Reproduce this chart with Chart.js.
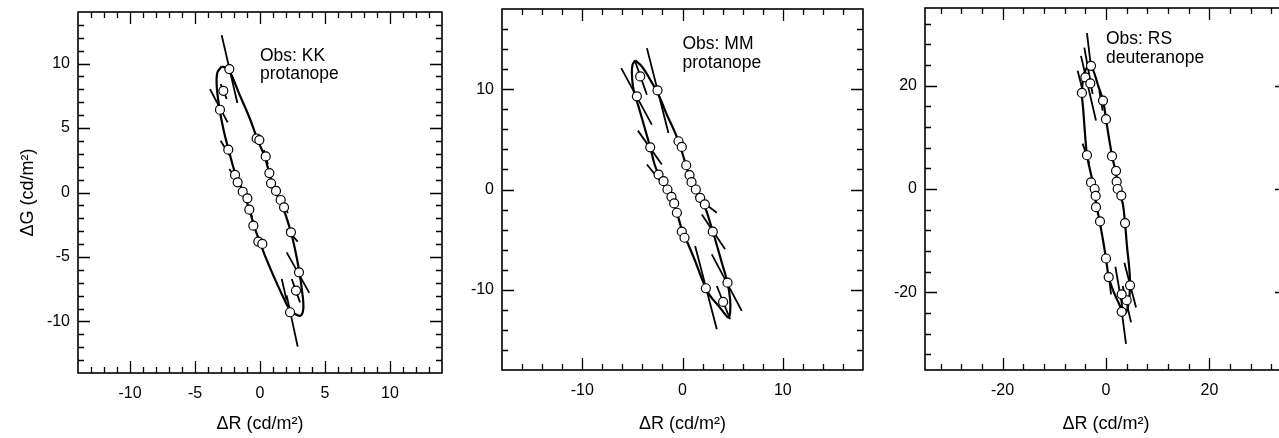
<!DOCTYPE html>
<html><head><meta charset="utf-8">
<script src="https://cdn.jsdelivr.net/npm/chart.js@4.4.1/dist/chart.umd.min.js"></script>
<style>
html,body{margin:0;padding:0;background:#fff;overflow:hidden;width:1279px;height:438px;position:relative;}
.p{position:absolute;top:0;}
canvas{display:block;}
</style></head><body>
<div class="p" style="left:0px;width:460px;height:438px"><canvas id="c1" width="460" height="438"></canvas></div>
<div class="p" style="left:440px;width:440px;height:438px"><canvas id="c2" width="440" height="438"></canvas></div>
<div class="p" style="left:880px;width:430px;height:438px"><canvas id="c3" width="430" height="438"></canvas></div>
<script>
// ---------- Panel 1: Obs KK, protanope ----------
const p1PointsX = [-2.36,-2.82,-3.08,-2.44,-1.92,-1.72,-1.33,-0.97,-0.82,-0.51,-0.13,0.18,-0.26,-0.05,0.44,0.72,0.85,1.23,1.59,1.85,2.38,3.00,2.77,2.31];
const p1PointsY = [9.57,7.89,6.42,3.32,1.36,0.79,0.06,-0.45,-1.33,-2.57,-3.81,-3.99,4.19,4.07,2.80,1.51,0.71,0.12,-0.58,-1.15,-3.09,-6.19,-7.61,-9.29];
const p1CurveX = [-2.95,-2.44,-1.54,-0.77,-0.21,0.38,0.77,1.15,1.67,2.31,2.69,3.03,3.28,3.33,3.13,2.69,2.26,1.67,1.03,0.38,0,-0.38,-0.82,-1.28,-1.85,-2.36,-2.82,-3.15,-3.33,-3.28,-2.95];
const p1CurveY = [9.78,9.57,7.51,5.70,4.15,2.73,1.30,0.14,-0.89,-2.83,-4.38,-6.19,-8.00,-9.03,-9.55,-9.42,-9.03,-7.87,-6.45,-4.90,-3.87,-2.83,-1.33,0.01,1.30,3.11,4.92,6.73,8.28,9.31,9.78];
const p1SegX1 = [-2.95,-3.85,-3.03,-3.03,-2.36,2.05,2.05,1.67,2.05,2.44,1.75,-0.95,0.30];
const p1SegY1 = [12.21,8.02,8.41,4.02,1.82,-2.83,-4.64,-6.70,-7.98,-6.71,-0.90,-1.00,3.30];
const p1SegX2 = [-1.74,-2.49,-2.56,-2.31,-1.74,2.90,3.79,2.05,2.90,3.08,2.15,-0.60,0.60];
const p1SegY2 = [6.94,5.44,7.25,2.85,0.92,-3.81,-7.79,-8.38,-11.95,-8.52,-1.60,-1.90,2.20];
const p1TickLabels = [-10,-5,0,5,10];
const p1Note = ['Obs: KK','protanope'];

// ---------- Panel 2: Obs MM, protanope ----------
const p2PointsX = [-4.55,-4.22,-2.49,-3.22,-2.39,-1.89,-1.50,-1.10,-0.83,-0.56,-0.07,0.20,-0.40,-0.07,0.37,0.70,0.90,1.33,1.76,2.23,3.02,4.49,4.05,2.33];
const p2PointsY = [9.29,11.28,9.88,4.21,1.49,0.83,0,-0.73,-1.39,-2.32,-4.21,-4.81,4.81,4.25,2.42,1.43,0.73,0,-0.83,-1.49,-4.21,-9.29,-11.21,-9.85];
const p2CurveX = [-4.72,-4.05,-3.22,-2.39,-1.56,-0.73,-0.23,0.33,0.93,1.59,2.26,2.76,3.26,3.92,4.49,4.75,4.75,4.58,4.25,3.59,2.76,2.09,1.26,0.43,-0.07,-0.56,-1.23,-2.06,-2.72,-3.22,-3.72,-4.39,-4.88,-5.05,-4.98,-4.72];
const p2CurveY = [12.87,12.27,10.95,9.45,7.46,5.64,4.31,2.49,0.66,-0.66,-1.82,-3.32,-4.98,-7.30,-9.29,-10.95,-12.27,-12.77,-12.44,-11.61,-10.61,-9.29,-7.13,-5.14,-3.98,-2.32,-0.66,0.83,2.32,4.21,5.97,8.29,9.95,11.61,12.44,12.87];
const p2SegX1 = [-6.11,-4.72,-3.55,-4.45,-3.55,1.26,1.93,1.26,2.92,3.42];
const p2SegY1 = [12.11,12.77,14.10,5.87,2.49,-0.66,-2.49,-5.64,-6.47,-9.62];
const p2SegX2 = [-3.06,-3.55,-1.40,-2.06,-2.06,3.42,4.25,3.42,5.91,4.75];
const p2SegY2 = [6.47,9.45,5.64,2.49,0.66,-2.32,-5.97,-13.93,-12.11,-12.94];
const p2TickLabels = [-10,0,10];
const p2Note = ['Obs: MM','protanope'];

// ---------- Panel 3: Obs RS, deuteranope ----------
const p3PointsX = [-4.65,-4.00,-2.90,-3.03,-3.68,-2.90,-2.19,-2.00,-1.94,-1.16,0,0.52,-0.58,0,1.16,1.94,2.06,2.26,2.97,3.68,4.65,4.00,3.03,3.03];
const p3PointsY = [18.57,21.57,23.82,20.42,6.53,1.28,0,-1.34,-3.52,-6.27,-13.44,-17.03,17.09,13.51,6.34,3.52,1.41,0,-1.28,-6.59,-18.63,-21.51,-20.36,-23.75];
const p3CurveX = [-3.35,-2.58,-1.61,-0.58,0,0.65,1.29,1.94,2.39,3.23,3.68,4.06,4.52,4.65,4.39,3.87,3.23,2.26,1.29,0.52,0,-0.65,-1.29,-1.94,-2.39,-3.23,-3.68,-4.06,-4.39,-4.65,-4.39,-3.87,-3.35];
const p3CurveY = [23.82,23.18,20.29,17.09,13.51,9.41,5.89,3.01,0,-2.75,-6.59,-11.08,-15.56,-18.76,-21.96,-23.88,-23.56,-21.64,-19.40,-17.03,-13.44,-9.48,-5.95,-2.75,0.45,4.29,6.53,10.69,15.17,18.57,21.57,23.18,23.82];
const p3SegX1 = [-3.68,-4.84,-5.48,-4.19,-1.29,-4.52,1.81,0.65,2.90,3.55,3.23];
const p3SegY1 = [30.15,25.74,22.86,27.34,19.01,8.77,-15.04,-17.48,-22.60,-14.28,-18.76];
const p3SegX2 = [-2.97,-1.94,-4.19,-2.58,-0.65,-3.23,3.35,0.97,3.87,5.81,4.84];
const p3SegY2 = [24.13,13.25,17.73,18.37,15.17,4.93,-23.88,-20.36,-29.96,-22.92,-25.80];
const p3TickLabels = [-20,0,20];
const p3Note = ['Obs: RS','deuteranope'];

const FONT = "'Liberation Sans', Arial, Helvetica, sans-serif";

const framePlugin = {
  id: 'frame',
  afterDraw(chart, args, o) {
    const {ctx, chartArea: a, scales: {x, y}} = chart;
    ctx.save();
    ctx.strokeStyle = '#000';
    ctx.lineWidth = 1.6;
    ctx.strokeRect(a.left, a.top, a.right - a.left, a.bottom - a.top);
    ctx.lineWidth = 1.3;
    ctx.beginPath();
    const step = o.minor;
    for (let v = Math.ceil(x.min / step) * step; v <= x.max + 1e-9; v += step) {
      if (Math.abs(v - x.min) < 1e-9 || Math.abs(v - x.max) < 1e-9) continue;
      const L = o.major.includes(Math.round(v)) ? 12 : 6;
      const px = Math.round(x.getPixelForValue(v)) + 0.5;
      ctx.moveTo(px, a.bottom); ctx.lineTo(px, a.bottom - L);
      ctx.moveTo(px, a.top); ctx.lineTo(px, a.top + L);
    }
    for (let v = Math.ceil(y.min / step) * step; v <= y.max + 1e-9; v += step) {
      if (Math.abs(v - y.min) < 1e-9 || Math.abs(v - y.max) < 1e-9) continue;
      const L = o.major.includes(Math.round(v)) ? 12 : 6;
      const py = Math.round(y.getPixelForValue(v)) + 0.5;
      ctx.moveTo(a.left, py); ctx.lineTo(a.left + L, py);
      ctx.moveTo(a.right, py); ctx.lineTo(a.right - L, py);
    }
    ctx.stroke();
    ctx.fillStyle = '#000';
    ctx.font = '17.5px ' + FONT;
    ctx.textAlign = 'left';
    ctx.textBaseline = 'alphabetic';
    const nx = x.getPixelForValue(o.noteX), ny = y.getPixelForValue(o.noteY);
    o.note.forEach((t, i) => ctx.fillText(t, nx, ny + i * 18.5));
    ctx.restore();
  }
};

function xy(xs, ys) { return xs.map((v, i) => ({x: v, y: ys[i]})); }
function segs(x1, y1, x2, y2) {
  const out = [];
  x1.forEach((v, i) => { out.push({x: v, y: y1[i]}, {x: x2[i], y: y2[i]}, {x: x2[i], y: null}); });
  return out;
}

function makeChart(id, c) {
  const tickFont = {family: FONT, size: 16};
  const titleFont = {family: FONT, size: 18};
  return new Chart(document.getElementById(id), {
    type: 'scatter',
    data: {datasets: [
      {data: xy(c.px, c.py), showLine: false, pointRadius: 4.5, pointHoverRadius: 4.5,
       pointBackgroundColor: '#fff', pointBorderColor: '#000', pointBorderWidth: 1.2, order: 0},
      {data: c.seg, showLine: true, spanGaps: false, pointRadius: 0, borderColor: '#000',
       borderWidth: 1.8, order: 1},
      {data: xy(c.cx, c.cy), showLine: true, pointRadius: 0, borderColor: '#000',
       borderWidth: 2.2, tension: 0.35, order: 2}
    ]},
    options: {
      responsive: false, animation: false, devicePixelRatio: 1,
      layout: {padding: {top: c.top, right: c.right, left: 0, bottom: 0}},
      plugins: {legend: {display: false}, tooltip: {enabled: false},
        frame: {minor: c.minor, major: c.labels, note: c.note, noteX: c.noteX, noteY: c.noteY}},
      scales: {
        x: {type: 'linear', min: -c.lim, max: c.lim,
          afterBuildTicks: s => { s.ticks = c.labels.map(v => ({value: v})); },
          afterFit: s => { s.height = c.xh; s.paddingLeft = 0; s.paddingRight = 0; },
          grid: {display: false, drawTicks: false}, border: {display: false},
          ticks: {font: tickFont, color: '#000', padding: 11, autoSkip: false, maxRotation: 0,
            callback: v => String(v)},
          title: {display: true, text: 'ΔR (cd/m²)', font: titleFont, color: '#000',
            padding: {top: 0, bottom: 3}}},
        y: {type: 'linear', min: -c.lim, max: c.lim,
          afterBuildTicks: s => { s.ticks = c.labels.map(v => ({value: v})); },
          afterFit: s => { s.width = c.yw; s.paddingTop = 0; s.paddingBottom = 0; },
          grid: {display: false, drawTicks: false}, border: {display: false},
          ticks: {font: tickFont, color: '#000', padding: 8, autoSkip: false,
            callback: v => String(v)},
          title: {display: c.ytitle, text: 'ΔG (cd/m²)', font: titleFont, color: '#000',
            padding: {top: 17, bottom: 0}}}
      }
    },
    plugins: [framePlugin]
  });
}

makeChart('c1', {px: p1PointsX, py: p1PointsY, cx: p1CurveX, cy: p1CurveY,
  seg: segs(p1SegX1, p1SegY1, p1SegX2, p1SegY2), labels: p1TickLabels, note: p1Note,
  noteX: 0, noteY: 10.2, lim: 14, minor: 1, top: 12, right: 18, yw: 78, xh: 65, ytitle: true});
makeChart('c2', {px: p2PointsX, py: p2PointsY, cx: p2CurveX, cy: p2CurveY,
  seg: segs(p2SegX1, p2SegY1, p2SegX2, p2SegY2), labels: p2TickLabels, note: p2Note,
  noteX: 0, noteY: 14.0, lim: 18, minor: 2, top: 9, right: 17, yw: 62, xh: 68, ytitle: false});
makeChart('c3', {px: p3PointsX, py: p3PointsY, cx: p3CurveX, cy: p3CurveY,
  seg: segs(p3SegX1, p3SegY1, p3SegX2, p3SegY2), labels: p3TickLabels, note: p3Note,
  noteX: 0, noteY: 28.0, lim: 35, minor: 4, top: 8, right: 23, yw: 45, xh: 68, ytitle: false});
</script>
</body></html>
